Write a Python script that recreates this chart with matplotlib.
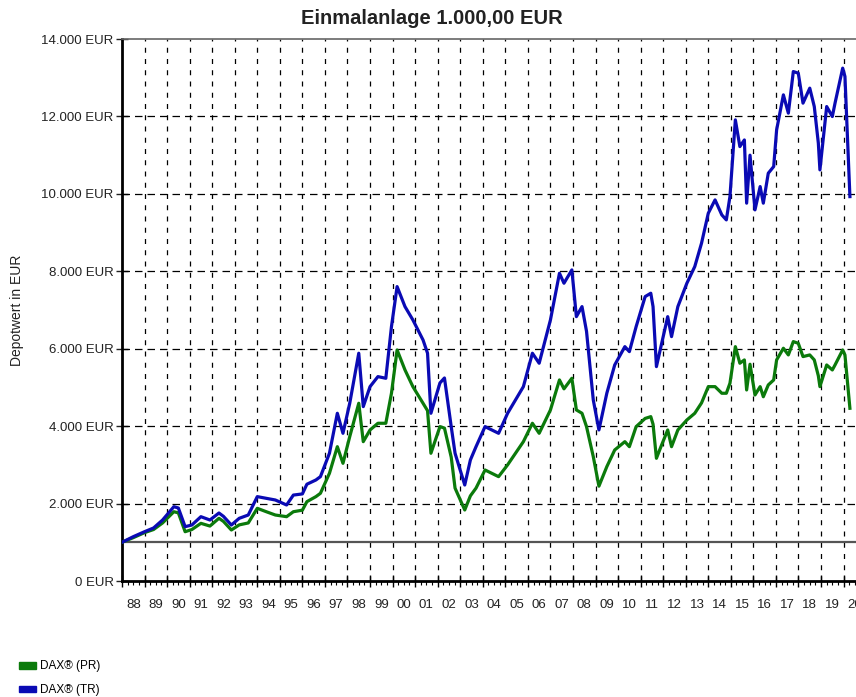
import matplotlib
matplotlib.use("Agg")
import matplotlib.pyplot as plt
from matplotlib.patches import Patch
import numpy

# decimal years
dates = [1988.0, 1988.5, 1989.0, 1989.4, 1989.8, 1990.3, 1990.5, 1990.8, 1991.1, 1991.5,
         1991.9, 1992.3, 1992.5, 1992.85, 1993.2, 1993.6, 1994.0, 1994.4, 1994.8, 1995.3,
         1995.6, 1996.0, 1996.2, 1996.6, 1996.8, 1997.2, 1997.55, 1997.8, 1998.1, 1998.5,
         1998.7, 1999.0, 1999.35, 1999.7, 1999.95, 2000.2, 2000.55, 2000.9, 2001.35, 2001.55,
         2001.7, 2002.1, 2002.3, 2002.6, 2002.77, 2003.2, 2003.45, 2003.7, 2004.1, 2004.7,
         2005.1, 2005.8, 2006.2, 2006.5, 2007.0, 2007.4, 2007.6, 2007.95, 2008.15, 2008.4,
         2008.6, 2008.9, 2009.15, 2009.5, 2009.85, 2010.3, 2010.5, 2010.8, 2011.2, 2011.45,
         2011.55, 2011.7, 2011.9, 2012.2, 2012.37, 2012.65, 2013.05, 2013.4, 2013.7, 2014.0,
         2014.3, 2014.6, 2014.8, 2014.96, 2015.2, 2015.4, 2015.6, 2015.7, 2015.85, 2016.07,
         2016.3, 2016.44, 2016.66, 2016.9, 2017.03, 2017.33, 2017.55, 2017.77, 2017.99, 2018.2,
         2018.5, 2018.7, 2018.88, 2018.95, 2019.25, 2019.5, 2019.62, 2019.96, 2020.06, 2020.28]

dax_tr = [1000, 1145, 1274, 1370, 1576, 1920, 1886, 1404, 1447, 1662,
          1576, 1757, 1670, 1447, 1620, 1705, 2180, 2136, 2093, 1964,
          2220, 2250, 2500, 2610, 2696, 3300, 4333, 3816, 4592, 5884,
          4505, 5021, 5280, 5237, 6571, 7605, 7088, 6744, 6227, 5884,
          4333, 5116, 5245, 3988, 3300, 2480, 3127, 3470, 3988, 3816,
          4333, 5021, 5884, 5625, 6744, 7950, 7692, 8036, 6829, 7088,
          6450, 4677, 3902, 4850, 5581, 6054, 5925, 6571, 7347, 7434,
          7088, 5538, 6054, 6829, 6313, 7088, 7692, 8122, 8726, 9501,
          9845, 9457, 9328, 9930, 11912, 11222, 11393, 9760, 11000, 9587,
          10189, 9760, 10534, 10706, 11654, 12558, 12085, 13160, 13119, 12344,
          12731, 12256, 11310, 10620, 12256, 11998, 12344, 13248, 13033, 9930]

dax_pr = [1000, 1120, 1250, 1330, 1500, 1790, 1760, 1274, 1330, 1490,
          1420, 1620, 1540, 1318, 1450, 1500, 1878, 1790, 1705, 1662,
          1790, 1830, 2050, 2180, 2266, 2783, 3470, 3041, 3730, 4592,
          3600, 3902, 4075, 4075, 4850, 5969, 5452, 5021, 4592, 4400,
          3300, 3988, 3950, 3200, 2400, 1835, 2200, 2400, 2868, 2696,
          3000, 3600, 4075, 3816, 4419, 5194, 4964, 5237, 4419, 4333,
          3988, 3212, 2450, 2954, 3385, 3600, 3470, 3988, 4200, 4246,
          4050, 3170, 3470, 3902, 3470, 3902, 4160, 4333, 4600, 5021,
          5021, 4850, 4850, 5108, 6054, 5625, 5711, 4935, 5600, 4806,
          5021, 4760, 5065, 5194, 5711, 6013, 5840, 6184, 6141, 5797,
          5840, 5711, 5300, 5021, 5581, 5452, 5581, 5969, 5840, 4462]

years = list(range(1988, 2021))
y_ticks = [0, 2000, 4000, 6000, 8000, 10000, 12000, 14000]
y_labels = ["0 EUR", "2.000 EUR", "4.000 EUR", "6.000 EUR", "8.000 EUR",
            "10.000 EUR", "12.000 EUR", "14.000 EUR"]

green = "#0b7a0b"
blue = "#0a0ab4"

plt.rcParams["font.family"] = ["Liberation Sans", "DejaVu Sans"]

fig = plt.figure(figsize=(8.56, 6.97), dpi=100)
ax = fig.add_axes([0.1425, 0.1664, 0.8575, 0.7776])

ax.plot(dates, dax_pr, color=green, lw=2.3, zorder=4)
ax.plot(dates, dax_tr, color=blue, lw=2.3, zorder=5)
ax.axhline(1000, color="#555555", lw=1.6, zorder=3)

ax.set_xlim(1988, 2020.55)
ax.set_ylim(0, 14000)

# grid
for v in y_ticks[1:-1]:
    ax.axhline(v, color="black", lw=0.9, ls=(0, (6, 4)), zorder=2)
for y in years[1:]:
    ax.axvline(y, color="black", lw=0.9, ls=(0, (4, 5)), zorder=2)

ax.set_yticks(y_ticks)
ax.set_yticklabels(y_labels, fontsize=9.5)
ax.tick_params(axis="y", direction="inout", length=8, width=1, pad=2, colors="#222222")

# years: major ticks on boundaries, labels in the middle of each year
ax.set_xticks(years)
ax.set_xticklabels([])
quarters = numpy.arange(1988, 2020.6, 0.25)
ax.set_xticks(quarters, minor=True)
qlabels = []
for q in quarters:
    if abs(q - int(q) - 0.5) < 1e-6:
        qlabels.append("%02d" % (int(q) % 100))
    else:
        qlabels.append("")
ax.set_xticklabels(qlabels, minor=True, fontsize=9.5)
ax.tick_params(axis="x", which="major", direction="inout", length=8, width=1)
ax.tick_params(axis="x", which="minor", direction="out", length=3, width=0.8, pad=10,
               labelcolor="#222222")

ax.spines["left"].set_linewidth(2)
ax.spines["bottom"].set_linewidth(2)
ax.spines["top"].set_color("#666666")
ax.spines["top"].set_linewidth(1.2)
ax.spines["right"].set_visible(False)

fig.text(0.505, 0.974, "Einmalanlage 1.000,00 EUR", fontsize=14.5, fontweight="bold",
         ha="center", va="center", color="#222222")
fig.text(0.02, 0.555, "Depotwert in EUR", fontsize=10, rotation=90,
         ha="center", va="center", color="#222222")

handles = [Patch(facecolor=green, edgecolor=green), Patch(facecolor=blue, edgecolor=blue)]
fig.legend(handles, ["DAX® (PR)", "DAX® (TR)"], loc="lower left",
           bbox_to_anchor=(0.01, -0.014), frameon=False, fontsize=8.5,
           handlelength=1.4, handleheight=0.5, handletextpad=0.4, labelspacing=1.0)

fig.savefig("out.png", dpi=100)
